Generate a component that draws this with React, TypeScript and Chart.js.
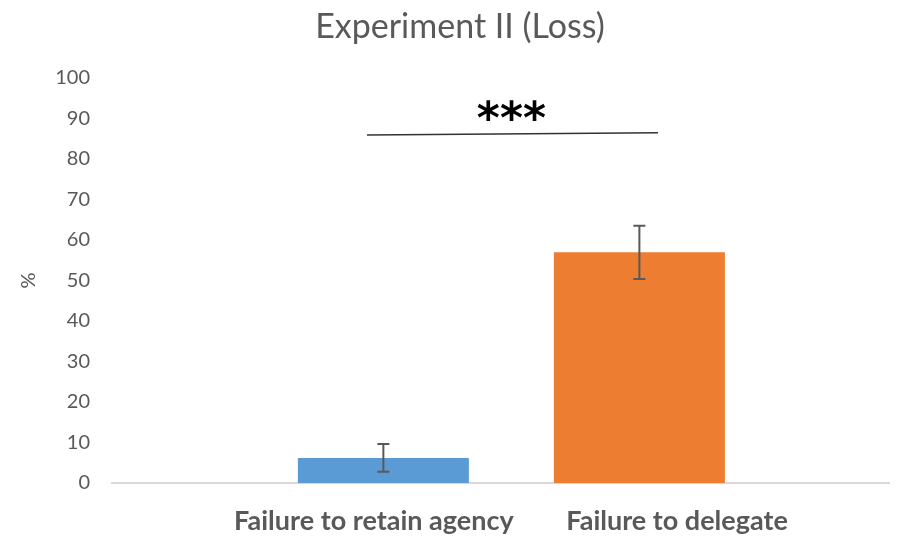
import React, { useEffect, useRef } from "react";
import { Chart, registerables } from "chart.js";

Chart.register(...registerables);

const categories = ["Failure to retain agency", "Failure to delegate"];
const barX = [1, 2];
const values = [6.2, 57.0];
const errLow = [2.8, 50.4];
const errHigh = [9.6, 63.5];
const colors = ["#5B9BD5", "#ED7D31"];
const yTicks = [0, 10, 20, 30, 40, 50, 60, 70, 80, 90, 100];
const sigStart = { x: 0.936, y: 85.9 };
const sigEnd = { x: 2.073, y: 86.5 };
const sigLabel = "***";
const sigLabelPos = { x: 1.5, y: 91.1 };
const titleText = "Experiment II (Loss)";
const labelX = [0.963, 2.147];

const FONT = "Lato, 'Open Sans', sans-serif";

const overlay = {
  id: "overlay",
  afterDatasetsDraw(chart: any) {
    const { ctx, scales } = chart;
    const xs = scales.x;
    const ys = scales.y;
    ctx.save();
    ctx.strokeStyle = "#595959";
    ctx.lineWidth = 2;
    for (let i = 0; i < values.length; i++) {
      const px = xs.getPixelForValue(barX[i]);
      const yl = ys.getPixelForValue(errLow[i]);
      const yh = ys.getPixelForValue(errHigh[i]);
      ctx.beginPath();
      ctx.moveTo(px, yl);
      ctx.lineTo(px, yh);
      ctx.moveTo(px - 6, yl);
      ctx.lineTo(px + 6, yl);
      ctx.moveTo(px - 6, yh);
      ctx.lineTo(px + 6, yh);
      ctx.stroke();
    }
    ctx.strokeStyle = "#333333";
    ctx.lineWidth = 1.5;
    ctx.beginPath();
    ctx.moveTo(xs.getPixelForValue(sigStart.x), ys.getPixelForValue(sigStart.y));
    ctx.lineTo(xs.getPixelForValue(sigEnd.x), ys.getPixelForValue(sigEnd.y));
    ctx.stroke();
    ctx.fillStyle = "#000000";
    ctx.font = "bold 44px 'DejaVu Sans'";
    ctx.textAlign = "center";
    ctx.textBaseline = "middle";
    ctx.fillText(sigLabel, xs.getPixelForValue(sigLabelPos.x), ys.getPixelForValue(sigLabelPos.y) + 8);
    ctx.fillStyle = "#595959";
    ctx.font = "34px " + FONT;
    ctx.textBaseline = "middle";
    ctx.fillText(titleText, 460, 27);
    ctx.restore();
  },
};

export default function App() {
  const ref = useRef<HTMLCanvasElement | null>(null);
  useEffect(() => {
    document.body.style.margin = "0";
    const chart = new Chart(ref.current as HTMLCanvasElement, {
      type: "bar",
      data: {
        datasets: [
          {
            data: barX.map((x, i) => ({ x, y: values[i] })),
            backgroundColor: colors,
            barPercentage: 0.668,
            categoryPercentage: 1,
          },
        ],
      },
      options: {
        animation: false,
        responsive: false,
        layout: { padding: { top: 78, left: 17, right: 11, bottom: 0 } },
        plugins: { legend: { display: false }, tooltip: { enabled: false }, title: { display: false } },
        scales: {
          x: {
            type: "linear",
            offset: false,
            min: -0.06,
            max: 2.975,
            grid: { display: false, drawTicks: false, offset: false },
            border: { display: true, color: "#D9D9D9", width: 2 },
            afterBuildTicks: (scale: any) => {
              scale.ticks = labelX.map((v) => ({ value: v }));
            },
            afterFit: (scale: any) => {
              scale.height = 57;
            },
            ticks: {
              autoSkip: false,
              maxRotation: 0,
              padding: 22,
              color: "#595959",
              font: { family: FONT, size: 27, weight: "bold" },
              callback: (_v: any, i: number) => categories[i],
            },
          },
          y: {
            min: 0,
            max: 100,
            afterBuildTicks: (scale: any) => {
              scale.ticks = yTicks.map((v) => ({ value: v }));
            },
            afterFit: (scale: any) => {
              scale.width = 95;
            },
            grid: { display: false, drawTicks: false },
            border: { display: false },
            title: { display: true, text: "%", color: "#595959", font: { family: FONT, size: 20 }, padding: { top: 0, bottom: 0 } },
            ticks: { color: "#595959", font: { family: FONT, size: 20 }, padding: 22 },
          },
        },
      },
      plugins: [overlay],
    });
    return () => chart.destroy();
  }, []);
  return (
    <div style={{ position: "fixed", left: 0, top: 0, width: 900, height: 540 }}>
      <canvas ref={ref} width={900} height={540} />
    </div>
  );
}
